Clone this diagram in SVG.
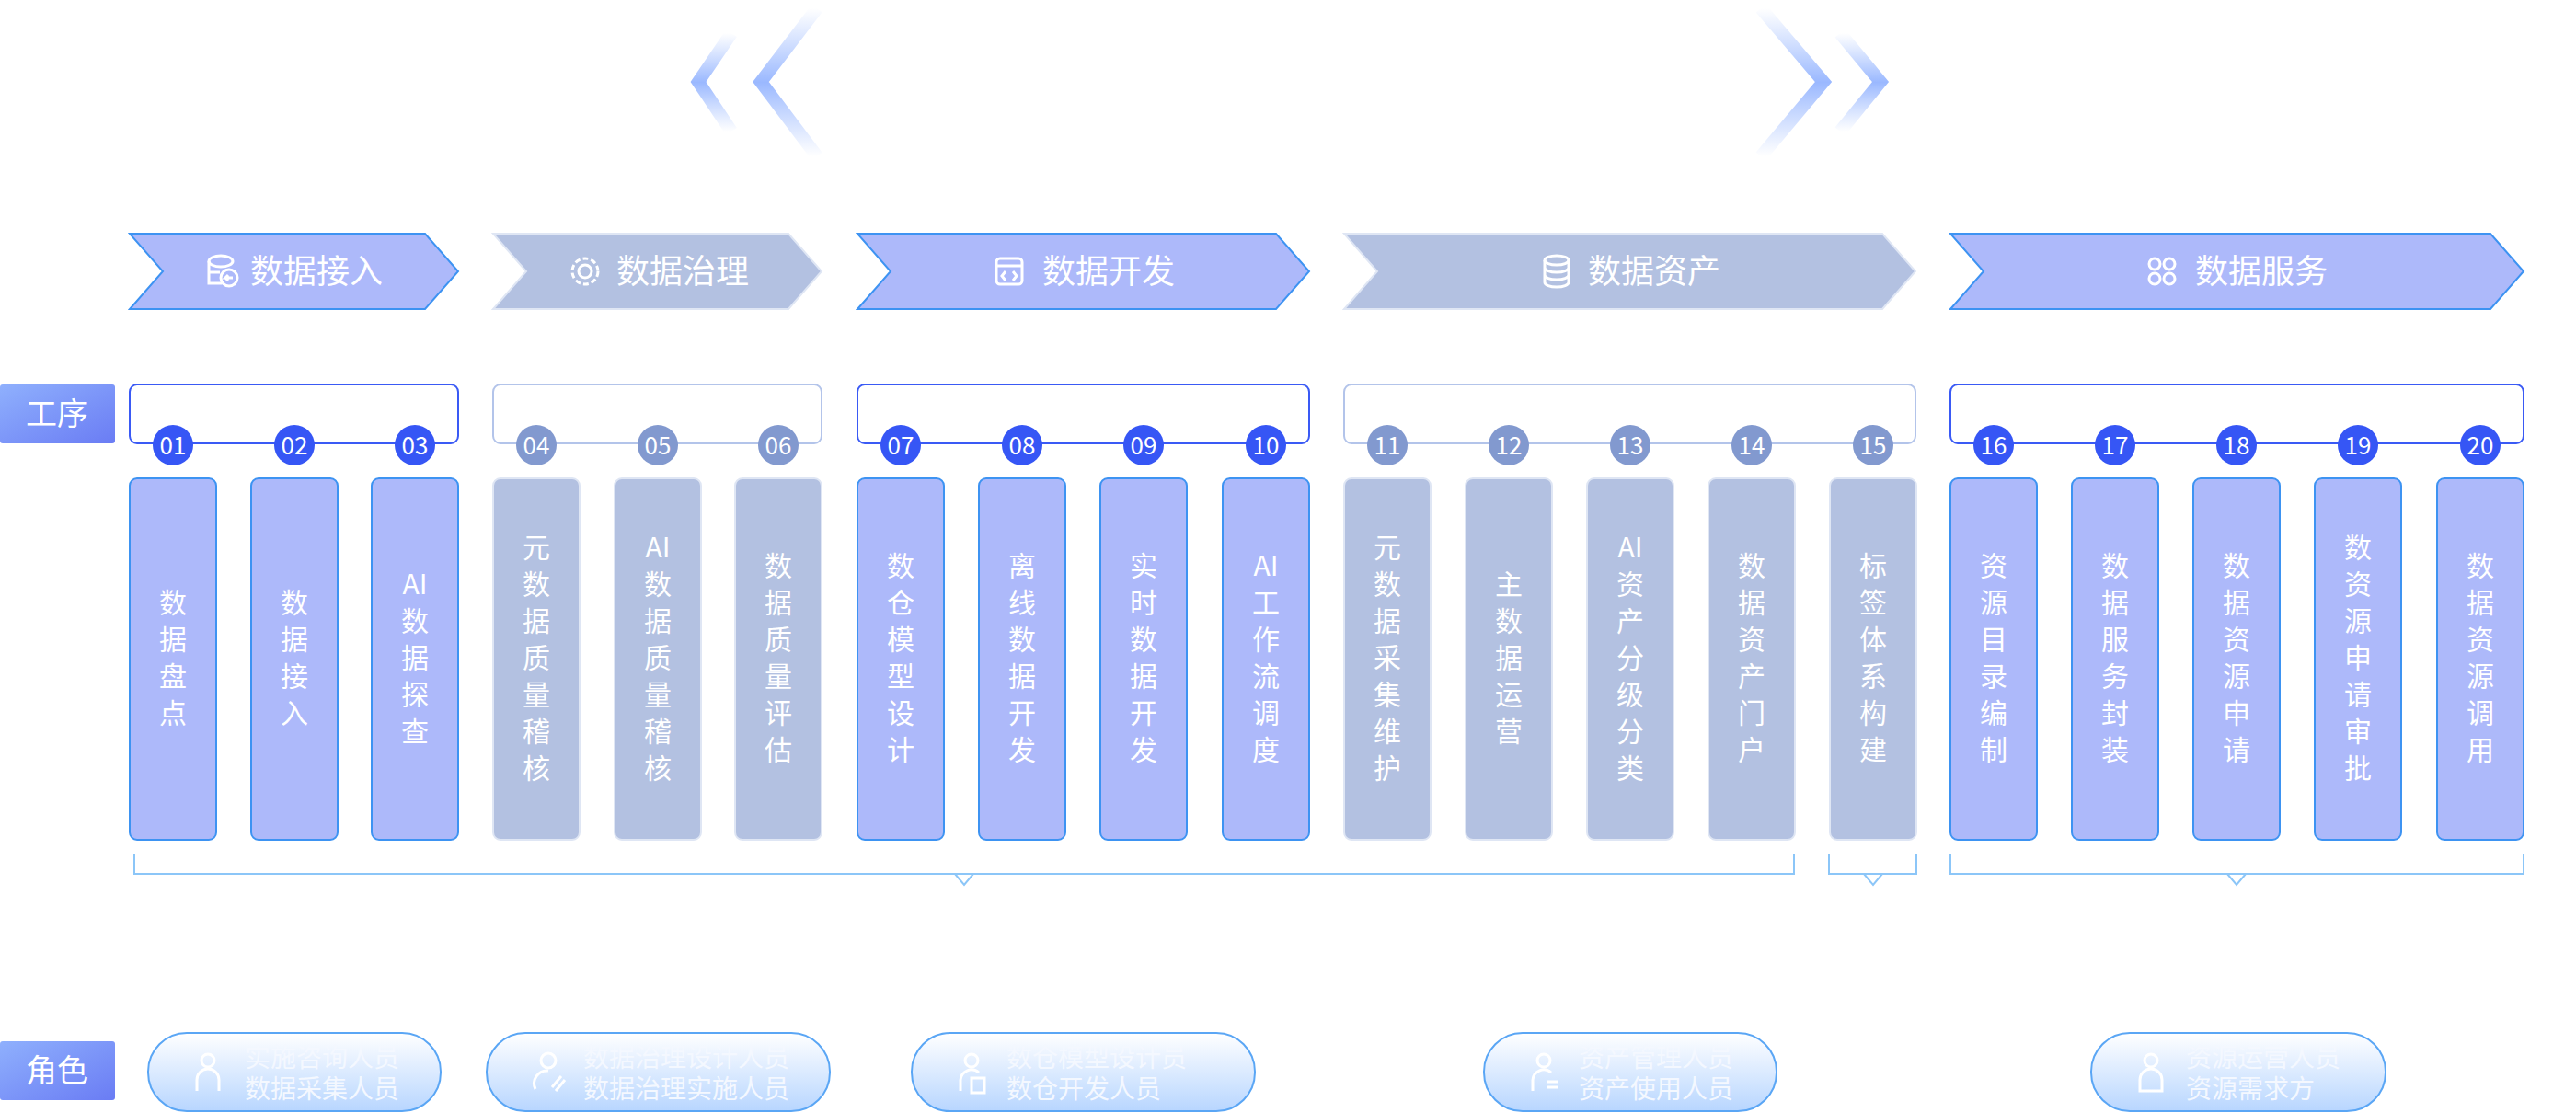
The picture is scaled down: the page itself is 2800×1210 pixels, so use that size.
<svg xmlns="http://www.w3.org/2000/svg" width="2800" height="1210" viewBox="0 0 2800 1210">
<defs>
<linearGradient id="lab" x1="0" y1="0" x2="1" y2="1"><stop offset="0" stop-color="#8fb0fd"/><stop offset="1" stop-color="#6a7cf4"/></linearGradient>
<linearGradient id="pill" x1="0" y1="0" x2="0" y2="1"><stop offset="0" stop-color="#ffffff"/><stop offset="1" stop-color="#b8d6ff"/></linearGradient>
<linearGradient id="dec" x1="0" y1="0" x2="0" y2="1"><stop offset="0" stop-color="#a4c0ff" stop-opacity="0"/><stop offset="0.5" stop-color="#9ab8ff"/><stop offset="1" stop-color="#a4c0ff" stop-opacity="0"/></linearGradient>
<style>
.t{font-family:"Noto Sans CJK SC","Liberation Sans",sans-serif;fill:#fff}
.hd{font-size:36px}
.col{font-size:30px;text-anchor:middle}
.num{font-size:26px;text-anchor:middle}
.pt{font-size:28px;fill:#f4f8ff}
.ba{fill:#adb9fa;stroke:#3d93f2;stroke-width:2}
.bi{fill:#b3c1e1;stroke:#dfe6f4;stroke-width:2}
.ca{fill:#adb9fa;stroke:#3d93f2;stroke-width:2}
.ci{fill:#b3c1e1;stroke:#dfe6f4;stroke-width:2}
.na{fill:#3656f5}
.ni{fill:#8299cf}
.bra{fill:#fff;stroke:#3a5af5;stroke-width:2}
.bri{fill:#fff;stroke:#b3c4ea;stroke-width:2}
.pl{fill:url(#pill);stroke:#5aa6f5;stroke-width:2}
.ic{fill:none;stroke:#fff;stroke-width:3}
.ln{fill:none;stroke:#8cc6f8;stroke-width:2}
</style>
</defs>
<rect width="2800" height="1210" fill="#fff"/>
<g id="deco" fill="none" stroke="url(#dec)" stroke-width="14">
<polyline points="888,9 827,89 888,170"/><polyline points="795,36 759,89 795,143"/>
<polyline points="1914,9 1982,89 1914,170"/><polyline points="2000,36 2044,89 2000,143"/>
</g>
<g id="phase1"><polygon class="ba" points="141,254 462,254 498,295 462,336 141,336 177,295"/>
<g class="ic" stroke-width="2.5"><ellipse cx="240" cy="284" rx="13" ry="6"/><path d="M227,284 v24 h14 M227,296 h12"/><circle cx="249" cy="302" r="9"/><path d="M253,302 h-8 l3,-3 M245,302 l3,3"/></g>
<text class="t hd" x="272" y="308">数据接入</text></g>
<g id="phase2"><polygon class="bi" points="536,254 857,254 893,295 857,336 536,336 572,295"/>
<g class="ic" stroke-width="2.5"><circle cx="636" cy="295" r="7"/><circle cx="636" cy="295" r="14" stroke-dasharray="6 3"/></g>
<text class="t hd" x="670" y="308">数据治理</text></g>
<g id="phase3"><polygon class="ba" points="932,254 1387,254 1423,295 1387,336 932,336 968,295"/>
<g class="ic" stroke-width="2.5"><rect x="1083" y="281" width="28" height="28" rx="4"/><path d="M1083,289 h28 M1093,295 l-4,5 4,5 M1101,295 l4,5 -4,5"/></g>
<text class="t hd" x="1133" y="308">数据开发</text></g>
<g id="phase4"><polygon class="bi" points="1461,254 2046,254 2082,295 2046,336 1461,336 1497,295"/>
<g class="ic" stroke-width="2.5"><ellipse cx="1692" cy="283" rx="13" ry="5"/><path d="M1679,283 v24 a13,5 0 0 0 26,0 v-24 M1679,291 a13,5 0 0 0 26,0 M1679,299 a13,5 0 0 0 26,0"/></g>
<text class="t hd" x="1726" y="308">数据资产</text></g>
<g id="phase5"><polygon class="ba" points="2120,254 2707,254 2743,295 2707,336 2120,336 2156,295"/>
<g class="ic" stroke-width="2.5"><circle cx="2342" cy="287" r="6"/><circle cx="2358" cy="287" r="6"/><circle cx="2342" cy="303" r="6"/><circle cx="2358" cy="303" r="6"/></g>
<text class="t hd" x="2386" y="308">数据服务</text></g>

<g id="label-gongxu"><rect x="0" y="418" width="125" height="64" rx="3" fill="url(#lab)"/><text class="t" x="62" y="462" font-size="34" text-anchor="middle">工序</text></g>
<g id="label-juese"><rect x="0" y="1132" width="125" height="64" rx="3" fill="url(#lab)"/><text class="t" x="62" y="1176" font-size="34" text-anchor="middle">角色</text></g>

<g id="brackets">
<rect class="bra" x="141" y="418" width="357" height="64" rx="8"/>
<rect class="bri" x="536" y="418" width="357" height="64" rx="8"/>
<rect class="bra" x="932" y="418" width="491" height="64" rx="8"/>
<rect class="bri" x="1461" y="418" width="621" height="64" rx="8"/>
<rect class="bra" x="2120" y="418" width="623" height="64" rx="8"/>
</g>

<g id="connectors">
<polyline class="ln" points="146,928 146,950 1950,950 1950,928"/>
<polyline class="ln" points="1038,950 1048,962 1058,950"/>
<polyline class="ln" points="1988,928 1988,950 2083,950 2083,928"/>
<polyline class="ln" points="2026,950 2036,962 2046,950"/>
<polyline class="ln" points="2120,928 2120,950 2743,950 2743,928"/>
<polyline class="ln" points="2421,950 2431,962 2441,950"/>
</g>

<g id="s01"><rect class="ca" x="141" y="520" width="94" height="393" rx="8"/><circle class="na" cx="188" cy="484" r="22"/><text class="t num" x="188" y="494">01</text><text class="t col" x="188"><tspan x="188" y="666">数</tspan><tspan x="188" y="706">据</tspan><tspan x="188" y="746">盘</tspan><tspan x="188" y="786">点</tspan></text></g>
<g id="s02"><rect class="ca" x="273" y="520" width="94" height="393" rx="8"/><circle class="na" cx="320" cy="484" r="22"/><text class="t num" x="320" y="494">02</text><text class="t col"><tspan x="320" y="666">数</tspan><tspan x="320" y="706">据</tspan><tspan x="320" y="746">接</tspan><tspan x="320" y="786">入</tspan></text></g>
<g id="s03"><rect class="ca" x="404" y="520" width="94" height="393" rx="8"/><circle class="na" cx="451" cy="484" r="22"/><text class="t num" x="451" y="494">03</text><text class="t col"><tspan x="451" y="646">AI</tspan><tspan x="451" y="686">数</tspan><tspan x="451" y="726">据</tspan><tspan x="451" y="766">探</tspan><tspan x="451" y="806">查</tspan></text></g>
<g id="s04"><rect class="ci" x="536" y="520" width="94" height="393" rx="8"/><circle class="ni" cx="583" cy="484" r="22"/><text class="t num" x="583" y="494">04</text><text class="t col"><tspan x="583" y="606">元</tspan><tspan x="583" y="646">数</tspan><tspan x="583" y="686">据</tspan><tspan x="583" y="726">质</tspan><tspan x="583" y="766">量</tspan><tspan x="583" y="806">稽</tspan><tspan x="583" y="846">核</tspan></text></g>
<g id="s05"><rect class="ci" x="668" y="520" width="94" height="393" rx="8"/><circle class="ni" cx="715" cy="484" r="22"/><text class="t num" x="715" y="494">05</text><text class="t col"><tspan x="715" y="606">AI</tspan><tspan x="715" y="646">数</tspan><tspan x="715" y="686">据</tspan><tspan x="715" y="726">质</tspan><tspan x="715" y="766">量</tspan><tspan x="715" y="806">稽</tspan><tspan x="715" y="846">核</tspan></text></g>
<g id="s06"><rect class="ci" x="799" y="520" width="94" height="393" rx="8"/><circle class="ni" cx="846" cy="484" r="22"/><text class="t num" x="846" y="494">06</text><text class="t col"><tspan x="846" y="626">数</tspan><tspan x="846" y="666">据</tspan><tspan x="846" y="706">质</tspan><tspan x="846" y="746">量</tspan><tspan x="846" y="786">评</tspan><tspan x="846" y="826">估</tspan></text></g>
<g id="s07"><rect class="ca" x="932" y="520" width="94" height="393" rx="8"/><circle class="na" cx="979" cy="484" r="22"/><text class="t num" x="979" y="494">07</text><text class="t col"><tspan x="979" y="626">数</tspan><tspan x="979" y="666">仓</tspan><tspan x="979" y="706">模</tspan><tspan x="979" y="746">型</tspan><tspan x="979" y="786">设</tspan><tspan x="979" y="826">计</tspan></text></g>
<g id="s08"><rect class="ca" x="1064" y="520" width="94" height="393" rx="8"/><circle class="na" cx="1111" cy="484" r="22"/><text class="t num" x="1111" y="494">08</text><text class="t col"><tspan x="1111" y="626">离</tspan><tspan x="1111" y="666">线</tspan><tspan x="1111" y="706">数</tspan><tspan x="1111" y="746">据</tspan><tspan x="1111" y="786">开</tspan><tspan x="1111" y="826">发</tspan></text></g>
<g id="s09"><rect class="ca" x="1196" y="520" width="94" height="393" rx="8"/><circle class="na" cx="1243" cy="484" r="22"/><text class="t num" x="1243" y="494">09</text><text class="t col"><tspan x="1243" y="626">实</tspan><tspan x="1243" y="666">时</tspan><tspan x="1243" y="706">数</tspan><tspan x="1243" y="746">据</tspan><tspan x="1243" y="786">开</tspan><tspan x="1243" y="826">发</tspan></text></g>
<g id="s10"><rect class="ca" x="1329" y="520" width="94" height="393" rx="8"/><circle class="na" cx="1376" cy="484" r="22"/><text class="t num" x="1376" y="494">10</text><text class="t col"><tspan x="1376" y="626">AI</tspan><tspan x="1376" y="666">工</tspan><tspan x="1376" y="706">作</tspan><tspan x="1376" y="746">流</tspan><tspan x="1376" y="786">调</tspan><tspan x="1376" y="826">度</tspan></text></g>
<g id="s11"><rect class="ci" x="1461" y="520" width="94" height="393" rx="8"/><circle class="ni" cx="1508" cy="484" r="22"/><text class="t num" x="1508" y="494">11</text><text class="t col"><tspan x="1508" y="606">元</tspan><tspan x="1508" y="646">数</tspan><tspan x="1508" y="686">据</tspan><tspan x="1508" y="726">采</tspan><tspan x="1508" y="766">集</tspan><tspan x="1508" y="806">维</tspan><tspan x="1508" y="846">护</tspan></text></g>
<g id="s12"><rect class="ci" x="1593" y="520" width="94" height="393" rx="8"/><circle class="ni" cx="1640" cy="484" r="22"/><text class="t num" x="1640" y="494">12</text><text class="t col"><tspan x="1640" y="646">主</tspan><tspan x="1640" y="686">数</tspan><tspan x="1640" y="726">据</tspan><tspan x="1640" y="766">运</tspan><tspan x="1640" y="806">营</tspan></text></g>
<g id="s13"><rect class="ci" x="1725" y="520" width="94" height="393" rx="8"/><circle class="ni" cx="1772" cy="484" r="22"/><text class="t num" x="1772" y="494">13</text><text class="t col"><tspan x="1772" y="606">AI</tspan><tspan x="1772" y="646">资</tspan><tspan x="1772" y="686">产</tspan><tspan x="1772" y="726">分</tspan><tspan x="1772" y="766">级</tspan><tspan x="1772" y="806">分</tspan><tspan x="1772" y="846">类</tspan></text></g>
<g id="s14"><rect class="ci" x="1857" y="520" width="94" height="393" rx="8"/><circle class="ni" cx="1904" cy="484" r="22"/><text class="t num" x="1904" y="494">14</text><text class="t col"><tspan x="1904" y="626">数</tspan><tspan x="1904" y="666">据</tspan><tspan x="1904" y="706">资</tspan><tspan x="1904" y="746">产</tspan><tspan x="1904" y="786">门</tspan><tspan x="1904" y="826">户</tspan></text></g>
<g id="s15"><rect class="ci" x="1989" y="520" width="94" height="393" rx="8"/><circle class="ni" cx="2036" cy="484" r="22"/><text class="t num" x="2036" y="494">15</text><text class="t col"><tspan x="2036" y="626">标</tspan><tspan x="2036" y="666">签</tspan><tspan x="2036" y="706">体</tspan><tspan x="2036" y="746">系</tspan><tspan x="2036" y="786">构</tspan><tspan x="2036" y="826">建</tspan></text></g>
<g id="s16"><rect class="ca" x="2120" y="520" width="94" height="393" rx="8"/><circle class="na" cx="2167" cy="484" r="22"/><text class="t num" x="2167" y="494">16</text><text class="t col"><tspan x="2167" y="626">资</tspan><tspan x="2167" y="666">源</tspan><tspan x="2167" y="706">目</tspan><tspan x="2167" y="746">录</tspan><tspan x="2167" y="786">编</tspan><tspan x="2167" y="826">制</tspan></text></g>
<g id="s17"><rect class="ca" x="2252" y="520" width="94" height="393" rx="8"/><circle class="na" cx="2299" cy="484" r="22"/><text class="t num" x="2299" y="494">17</text><text class="t col"><tspan x="2299" y="626">数</tspan><tspan x="2299" y="666">据</tspan><tspan x="2299" y="706">服</tspan><tspan x="2299" y="746">务</tspan><tspan x="2299" y="786">封</tspan><tspan x="2299" y="826">装</tspan></text></g>
<g id="s18"><rect class="ca" x="2384" y="520" width="94" height="393" rx="8"/><circle class="na" cx="2431" cy="484" r="22"/><text class="t num" x="2431" y="494">18</text><text class="t col"><tspan x="2431" y="626">数</tspan><tspan x="2431" y="666">据</tspan><tspan x="2431" y="706">资</tspan><tspan x="2431" y="746">源</tspan><tspan x="2431" y="786">申</tspan><tspan x="2431" y="826">请</tspan></text></g>
<g id="s19"><rect class="ca" x="2516" y="520" width="94" height="393" rx="8"/><circle class="na" cx="2563" cy="484" r="22"/><text class="t num" x="2563" y="494">19</text><text class="t col"><tspan x="2563" y="606">数</tspan><tspan x="2563" y="646">资</tspan><tspan x="2563" y="686">源</tspan><tspan x="2563" y="726">申</tspan><tspan x="2563" y="766">请</tspan><tspan x="2563" y="806">审</tspan><tspan x="2563" y="846">批</tspan></text></g>
<g id="s20"><rect class="ca" x="2649" y="520" width="94" height="393" rx="8"/><circle class="na" cx="2696" cy="484" r="22"/><text class="t num" x="2696" y="494">20</text><text class="t col"><tspan x="2696" y="626">数</tspan><tspan x="2696" y="666">据</tspan><tspan x="2696" y="706">资</tspan><tspan x="2696" y="746">源</tspan><tspan x="2696" y="786">调</tspan><tspan x="2696" y="826">用</tspan></text></g>

<g id="role1"><rect class="pl" x="161" y="1123" width="318" height="85" rx="42"/><g class="ic"><circle cx="226" cy="1153" r="7"/><path d="M214,1186 v-12 a12,12 0 0 1 24,0 v12"/></g><text class="t pt"><tspan x="266" y="1160">实施咨询人员</tspan><tspan x="266" y="1194">数据采集人员</tspan></text></g>
<g id="role2"><rect class="pl" x="529" y="1123" width="373" height="85" rx="42"/><g class="ic"><circle cx="596" cy="1153" r="8"/><path d="M582,1184 a14,14 0 0 1 14,-20 M600,1182 l10,-12 M604,1186 l10,-12"/></g><text class="t pt"><tspan x="634" y="1160">数据治理设计人员</tspan><tspan x="634" y="1194">数据治理实施人员</tspan></text></g>
<g id="role3"><rect class="pl" x="991" y="1123" width="373" height="85" rx="42"/><g class="ic"><circle cx="1056" cy="1153" r="7"/><path d="M1044,1186 v-12 a12,12 0 0 1 20,-8 M1056,1172 h14 v16 h-14 z"/></g><text class="t pt"><tspan x="1094" y="1160">数仓模型设计员</tspan><tspan x="1094" y="1194">数仓开发人员</tspan></text></g>
<g id="role4"><rect class="pl" x="1613" y="1123" width="318" height="85" rx="42"/><g class="ic"><circle cx="1678" cy="1153" r="7"/><path d="M1666,1186 v-12 a12,12 0 0 1 20,-8 M1682,1176 h12 M1682,1182 h12"/></g><text class="t pt"><tspan x="1716" y="1160">资产管理人员</tspan><tspan x="1716" y="1194">资产使用人员</tspan></text></g>
<g id="role5"><rect class="pl" x="2273" y="1123" width="320" height="85" rx="42"/><g class="ic"><circle cx="2338" cy="1153" r="7"/><path d="M2326,1186 v-12 a12,12 0 0 1 24,0 v12 z"/></g><text class="t pt"><tspan x="2376" y="1160">资源运营人员</tspan><tspan x="2376" y="1194">资源需求方</tspan></text></g>
</svg>
